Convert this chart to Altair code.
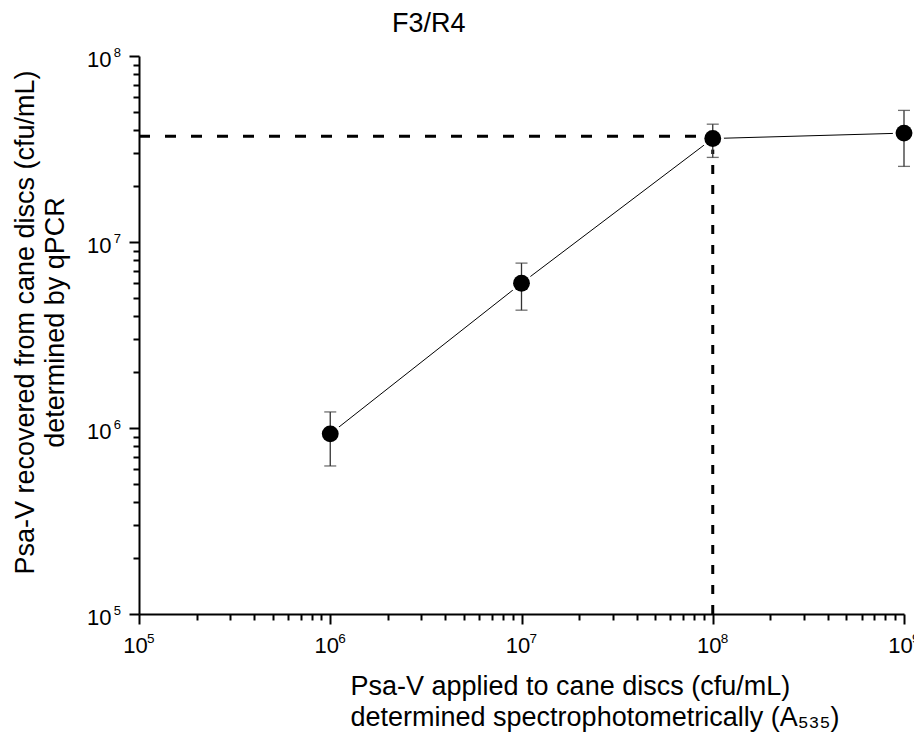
import altair as alt
import pandas as pd

FONT = "Liberation Sans, Arial, sans-serif"

# data
applied = [1e6, 1e7, 1e8, 1e9]
recovered = [9.3e5, 6.0e6, 3.6e7, 3.85e7]
err_lo = [6.25e5, 4.3e6, 2.85e7, 2.55e7]
err_hi = [1.22e6, 7.7e6, 4.3e7, 5.1e7]

# dashed guide lines (horizontal then vertical)
guide_kind = ["h", "v"]
guide_x = [1e5, 1e8]
guide_x2 = [1e8, 1e8]
guide_y = [3.7e7, 1e5]
guide_y2 = [3.7e7, 3.6e7]

# tick values (majors and 2..9 minors per decade)
minor_mult = [1, 2, 3, 4, 5, 6, 7, 8, 9]
x_decades = [5, 6, 7, 8]
y_decades = [5, 6, 7]
x_ticks = [m * 10.0 ** e for e in x_decades for m in minor_mult] + [1e9]
y_ticks = [m * 10.0 ** e for e in y_decades for m in minor_mult] + [1e8]

# tick label exponents
x_label_pos = [1e5, 1e6, 1e7, 1e8, 1e9]
x_label_exp = ["5", "6", "7", "8", "9"]
y_label_pos = [1e5, 1e6, 1e7, 1e8]
y_label_exp = ["5", "6", "7", "8"]

df = pd.DataFrame({"applied": applied, "recovered": recovered, "lo": err_lo, "hi": err_hi})
guides = pd.DataFrame({"kind": guide_kind, "x": guide_x, "x2": guide_x2, "y": guide_y, "y2": guide_y2})
x_exp_df = pd.DataFrame({"pos": x_label_pos, "exp": x_label_exp})
y_exp_df = pd.DataFrame({"pos": y_label_pos, "exp": y_label_exp})

EXP = "round(log(datum.value)/LN10)"
IS_MAJOR = f"abs(log(datum.value)/LN10 - {EXP}) < 0.001"
LABEL_EXPR = f"{IS_MAJOR} ? '10' : ''"
TICK_SIZE = {"condition": {"test": IS_MAJOR, "value": 10}, "value": 6}

x_axis = alt.Axis(
    values=x_ticks, labelExpr=LABEL_EXPR, tickSize=TICK_SIZE,
    labelOverlap=False, labelFlush=False, labelBound=False, labelPadding=11,
    labelOffset=-4,
    titleAlign="left", titleAnchor="start", titleBaseline="alphabetic",
    titleX=211, titleY=80, titleLineHeight=31,
)
y_axis = alt.Axis(
    values=y_ticks, labelExpr=LABEL_EXPR, tickSize=TICK_SIZE,
    labelOverlap=False, labelFlush=False, labelBound=False, labelPadding=18,
    labelOffset=3,
    titleAngle=270, titleAlign="center", titleBaseline="alphabetic",
    titleX=-106, titleY=266, titleLineHeight=30,
)

x_title = ["Psa-V applied to cane discs (cfu/mL)", "determined spectrophotometrically (A₅₃₅)"]
y_title = ["Psa-V recovered from cane discs (cfu/mL)", "determined by qPCR"]

x_scale = alt.Scale(type="log", domain=[1e5, 1e9], nice=False)
y_scale = alt.Scale(type="log", domain=[1e5, 1e8], nice=False)


def X(field):
    return alt.X(f"{field}:Q", scale=x_scale, axis=x_axis, title=x_title)


def Y(field):
    return alt.Y(f"{field}:Q", scale=y_scale, axis=y_axis, title=y_title)


X_MIN = alt.XDatum(1e5, type="quantitative", scale=x_scale, axis=x_axis, title=x_title)
Y_MIN = alt.YDatum(1e5, type="quantitative", scale=y_scale, axis=y_axis, title=y_title)

h_guide = alt.Chart(guides).transform_filter("datum.kind == 'h'").mark_rule(
    color="black", strokeWidth=3, strokeDash=[11, 15]
).encode(x=X("x"), x2="x2:Q", y=Y("y"), y2="y2:Q")

v_guide = alt.Chart(guides).transform_filter("datum.kind == 'v'").mark_rule(
    color="black", strokeWidth=3, strokeDash=[9, 11]
).encode(x=X("x"), x2="x2:Q", y=Y("y"), y2="y2:Q")

base = alt.Chart(df)

line = base.mark_line(color="black", strokeWidth=1).encode(x=X("applied"), y=Y("recovered"))

halo = base.mark_circle(color="white", opacity=1, size=500).encode(x=X("applied"), y=Y("recovered"))

err = base.mark_rule(color="#333333", strokeWidth=1.3).encode(x=X("applied"), y=Y("lo"), y2="hi:Q")

caps = base.transform_fold(["lo", "hi"], as_=["end", "val"]).mark_tick(
    color="#333333", thickness=1.3, size=12, orient="horizontal"
).encode(x=X("applied"), y=Y("val"))

points = base.mark_circle(color="black", opacity=1, size=284).encode(x=X("applied"), y=Y("recovered"))

x_exps = alt.Chart(x_exp_df).mark_text(
    font=FONT, fontSize=13.5, color="black", align="left", baseline="alphabetic", dx=8, dy=29
).encode(x=X("pos"), y=Y_MIN, text="exp:N")

y_exps = alt.Chart(y_exp_df).mark_text(
    font=FONT, fontSize=13, color="black", align="right", baseline="alphabetic", dx=-18, dy=1
).encode(x=X_MIN, y=Y("pos"), text="exp:N")

chart = alt.layer(h_guide, v_guide, line, halo, err, caps, points, x_exps, y_exps).properties(
    width=765,
    height=558,
    autosize=alt.AutoSizeParams(type="none"),
    padding={"left": 131, "top": 48, "right": 10, "bottom": 120},
    title=alt.TitleParams(
        text="F3/R4", font=FONT, fontSize=27, fontWeight="normal", color="black",
        anchor="start", frame="group", dx=253, offset=9,
    ),
).configure_view(stroke=None).configure_axis(
    grid=False,
    domainColor="black", domainWidth=2,
    tickColor="black", tickWidth=2,
    labelFont=FONT, labelFontSize=22, labelColor="black",
    titleFont=FONT, titleFontSize=27, titleFontWeight="normal", titleColor="black",
)

chart.save("out.html", embed_options={"renderer": "svg", "actions": False})
